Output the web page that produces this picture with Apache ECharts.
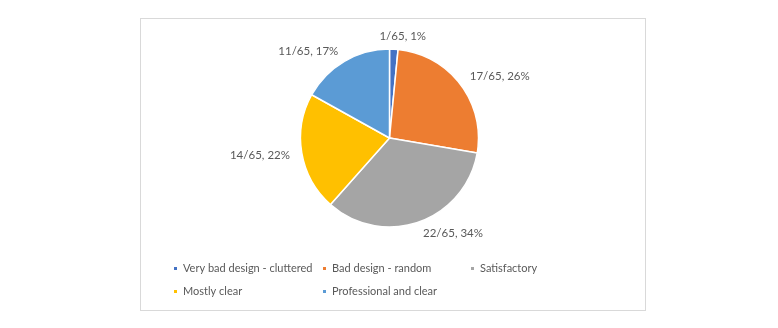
<!DOCTYPE html>
<html><head><meta charset="utf-8">
<script src="https://cdn.jsdelivr.net/npm/echarts@6/dist/echarts.min.js"></script>
<style>
html,body{margin:0;padding:0;background:#fff;width:778px;height:328px;overflow:hidden;}
#frame{position:absolute;left:140px;top:18px;width:504px;height:291px;border:1px solid #d9d9d9;}
#c{width:504px;height:291px;}
</style></head><body>
<div id="frame"><div id="c"></div></div>
<script>
const categories = ['Very bad design - cluttered','Bad design - random','Satisfactory','Mostly clear','Professional and clear'];
const values = [1, 17, 22, 14, 11];
const total = 65;
const percents = [1, 26, 34, 22, 17];
const colors = ['#4472C4','#ED7D31','#A5A5A5','#FFC000','#5B9BD5'];

const chart = echarts.init(document.getElementById('c'), null, {renderer:'canvas'});
const legendPos = [[31,251],[180,251],[328,251],[31,274],[180,274]];
const legends = categories.map((n,i)=>({
  data:[n], left: legendPos[i][0], top: legendPos[i][1]-7, itemWidth:5, itemHeight:5, icon:'rect',
  padding:0, textStyle:{color:'#595959', fontSize:11, fontFamily:'Lato'}, selectedMode:false
}));
chart.setOption({
  animation:false,
  color: colors,
  legend: legends,
  series:[{
    type:'pie', center:[248.5,119], radius:89, startAngle:90, clockwise:true,
    avoidLabelOverlap:false,
    itemStyle:{borderColor:'#fff', borderWidth:1.5},
    label:{show:true, position:'outside', color:'#595959', fontSize:11.5, fontFamily:'Lato',
      distanceToLabelLine:0,
      formatter: p => p.value + '/' + total + ', ' + percents[p.dataIndex] + '%'},
    labelLine:{show:false, length:12, length2:0},
    data: categories.map((n,i)=> i === 0
      ? {name:n, value:values[i], labelLine:{length:13, length2:-15}}
      : {name:n, value:values[i]})
  }]
});
</script>
</body></html>
